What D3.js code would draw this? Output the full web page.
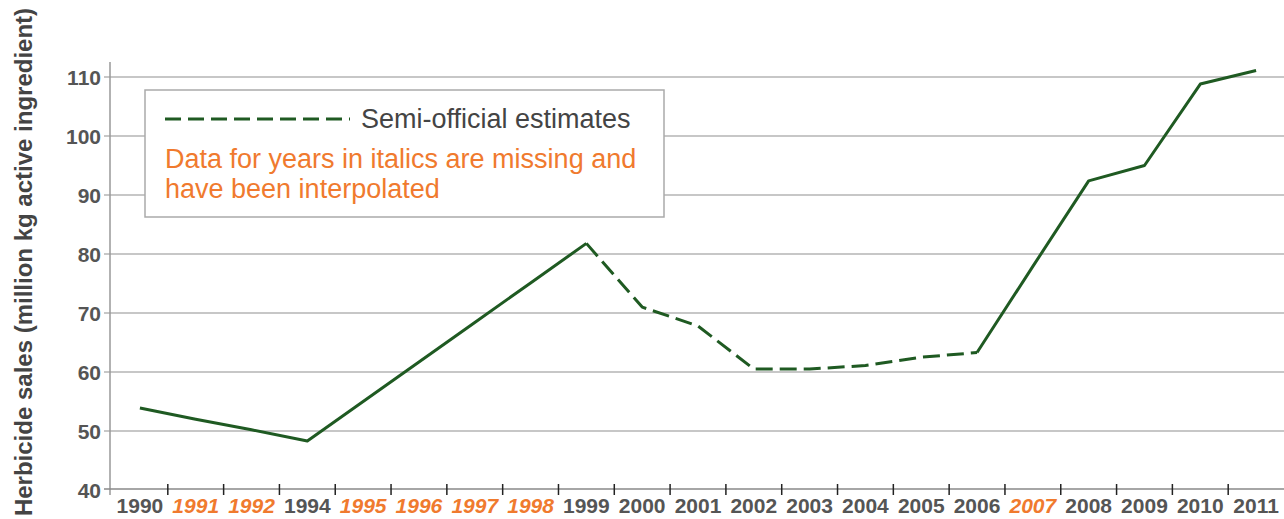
<!DOCTYPE html>
<meta charset="utf-8">
<style>
body { margin: 0; background: #fff; }
.tick-label { font-family: "Liberation Sans Narrow", "Liberation Sans", sans-serif; font-weight: bold; font-size: 21px; fill: #555; }
.grid line { stroke: #b4b4b4; stroke-width: 1.5px; }
.legend-text { font-family: "Liberation Sans", Arial, sans-serif; font-size: 27px; }
</style>
<svg width="1284" height="519"></svg>
<script src="https://d3js.org/d3.v7.min.js"></script>
<script>

// data
var years = ["1990","1991","1992","1994","1995","1996","1997","1998","1999","2000",
             "2001","2002","2003","2004","2005","2006","2007","2008","2009","2010","2011"];
var sales = [53.9, 52.0, 50.2, 48.3, 55.0, 61.7, 68.4, 75.1, 81.8, 71.0,
             67.8, 60.5, 60.5, 61.1, 62.5, 63.3, 77.9, 92.4, 95.0, 108.8, 111.1];
var interpolated = ["1991","1992","1995","1996","1997","1998","2007"];
var yTicks = [40, 50, 60, 70, 80, 90, 100, 110];

var green = "#1f5a22",
    orange = "#f07a2e";

var svg = d3.select("svg");

var x = d3.scaleBand()
    .domain(years)
    .range([112, 1284]);

var y = d3.scaleLinear()
    .domain([40, 110])
    .range([490, 77]);

var cx = function(d) { return x(d) + x.bandwidth() / 2; };

// gridlines
svg.append("g")
    .attr("class", "grid")
  .selectAll("line")
  .data(yTicks.slice(1))
  .enter().append("line")
    .attr("x1", 104)
    .attr("x2", 1284)
    .attr("y1", function(d) { return y(d); })
    .attr("y2", function(d) { return y(d); });

// y axis line + bottom axis
svg.append("line")
    .attr("x1", 110).attr("x2", 110)
    .attr("y1", 62).attr("y2", 495)
    .style("stroke", "#999").style("stroke-width", 1.5);

svg.append("line")
    .attr("x1", 104).attr("x2", 1284)
    .attr("y1", 489).attr("y2", 489)
    .style("stroke", "#888").style("stroke-width", 1.5);

// y tick labels
svg.append("g")
  .selectAll("text")
  .data(yTicks)
  .enter().append("text")
    .attr("class", "tick-label")
    .attr("x", 101)
    .attr("y", function(d) { return y(d); })
    .attr("dy", "0.36em")
    .attr("text-anchor", "end")
    .text(function(d) { return d; });

// x ticks between bands
svg.append("g")
  .selectAll("line")
  .data(years.slice(1))
  .enter().append("line")
    .attr("x1", function(d) { return x(d); })
    .attr("x2", function(d) { return x(d); })
    .attr("y1", 484)
    .attr("y2", 495)
    .style("stroke", "#222")
    .style("stroke-width", 1.5);

svg.append("g")
  .selectAll("text")
  .data(years)
  .enter().append("text")
    .attr("class", "tick-label")
    .attr("x", cx)
    .attr("y", 513)
    .attr("text-anchor", "middle")
    .style("fill", function(d) { return interpolated.indexOf(d) >= 0 ? orange : "#555"; })
    .style("font-style", function(d) { return interpolated.indexOf(d) >= 0 ? "italic" : "normal"; })
    .text(function(d) { return d; });

// y axis title
svg.append("text")
    .attr("class", "tick-label")
    .attr("transform", "translate(32,262) rotate(-90)")
    .attr("text-anchor", "middle")
    .style("font-size", "24px")
    .style("fill", "#444")
    .text("Herbicide sales (million kg active ingredient)");

// line, split into solid / dashed pieces
var pts = years.map(function(d, i) { return {year: d, v: sales[i]}; });
var line = d3.line()
    .x(function(d) { return cx(d.year); })
    .y(function(d) { return y(d.v); });

var i99 = years.indexOf("1999"), i06 = years.indexOf("2006");
var pieces = [
  {data: pts.slice(0, i99 + 1), dash: null},
  {data: pts.slice(i99, i06 + 1), dash: "17,7"},
  {data: pts.slice(i06), dash: null}
];

svg.append("g")
  .selectAll("path")
  .data(pieces)
  .enter().append("path")
    .attr("d", function(d) { return line(d.data); })
    .attr("fill", "none")
    .attr("stroke", green)
    .attr("stroke-width", 3)
    .attr("stroke-linejoin", "round")
    .attr("stroke-dasharray", function(d) { return d.dash; });

// legend box
var lg = svg.append("g");
lg.append("rect")
    .attr("x", 145).attr("y", 90)
    .attr("width", 519).attr("height", 127)
    .attr("fill", "#fff")
    .attr("stroke", "#aaa")
    .attr("stroke-width", 1.5);

lg.append("line")
    .attr("x1", 165).attr("x2", 350)
    .attr("y1", 119).attr("y2", 119)
    .attr("stroke", green)
    .attr("stroke-width", 3)
    .attr("stroke-dasharray", "16,7");

lg.append("text")
    .attr("class", "legend-text")
    .attr("x", 361).attr("y", 128)
    .style("fill", "#444")
    .text("Semi-official estimates");

lg.append("text")
    .attr("class", "legend-text")
    .attr("x", 165).attr("y", 168)
    .style("fill", orange)
    .text("Data for years in italics are missing and");

lg.append("text")
    .attr("class", "legend-text")
    .attr("x", 165).attr("y", 198)
    .style("fill", orange)
    .text("have been interpolated");

</script>
